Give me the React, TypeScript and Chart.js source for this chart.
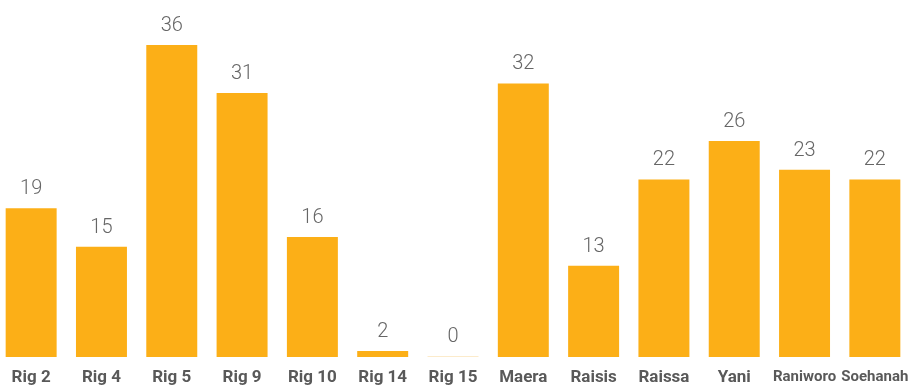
import { useEffect, useRef } from 'react';
import { Chart, registerables } from 'chart.js';

Chart.register(...registerables);

const categories = [
  'Rig 2', 'Rig 4', 'Rig 5', 'Rig 9', 'Rig 10', 'Rig 14', 'Rig 15',
  'Maera', 'Raisis', 'Raissa', 'Yani', 'Raniworo', 'Soehanah',
];
const values = [19, 15, 36, 31, 16, 2, 0, 32, 13, 22, 26, 23, 22];

// value-axis range (the axis starts above zero, as in the reference)
const Y_MIN = 3.5;
const Y_MAX = 40.7;

const BAR_COLOR = '#FCAF17';
const FAINT_BAR = '#FCEBCB';
const VALUE_COLOR = '#666666';
const LABEL_COLOR = '#595959';
const VALUE_FONT = "Roboto, sans-serif";

const valueLabels = {
  id: 'valueLabels',
  afterDatasetsDraw(chart: any) {
    const { ctx, chartArea, scales } = chart;
    const y = scales.y;
    const meta = chart.getDatasetMeta(0);
    const data = chart.data.datasets[0].data as number[];
    ctx.save();
    meta.data.forEach((bar: any, i: number) => {
      const v = data[i];
      const { width } = bar.getProps(['width'], true);
      let top = bar.y;
      if (v < y.min) {
        // values under the axis start are shown as a thin stub on the baseline
        const h = v > 0 ? 6 : 1;
        top = chartArea.bottom - h;
        ctx.fillStyle = v > 0 ? BAR_COLOR : FAINT_BAR;
        ctx.fillRect(bar.x - width / 2, top, width, h);
      }
      ctx.fillStyle = VALUE_COLOR;
      ctx.font = `300 20px ${VALUE_FONT}`;
      ctx.textAlign = 'center';
      ctx.textBaseline = 'alphabetic';
      ctx.fillText(String(v), bar.x, top - 14);
    });
    ctx.restore();
  },
};

export default function App() {
  const canvasRef = useRef<HTMLCanvasElement | null>(null);

  useEffect(() => {
    if (!canvasRef.current) return;
    const chart = new Chart(canvasRef.current, {
      type: 'bar',
      data: {
        labels: categories,
        datasets: [
          {
            data: values,
            backgroundColor: BAR_COLOR,
            borderWidth: 0,
            barPercentage: 1,
            categoryPercentage: 0.725,
            clip: 0,
          } as any,
        ],
      },
      options: {
        animation: false,
        responsive: true,
        maintainAspectRatio: false,
        layout: { padding: 0 },
        plugins: {
          legend: { display: false },
          tooltip: { enabled: false },
        },
        scales: {
          x: {
            grid: { display: false, drawTicks: false, tickLength: 0 },
            border: { display: false },
            afterFit: (scale: any) => {
              scale.height = 30;
              scale.paddingLeft = 0;
              scale.paddingRight = 0;
            },
            ticks: {
              autoSkip: false,
              maxRotation: 0,
              padding: 11,
              color: LABEL_COLOR,
              font: (ctx: any) => ({
                family: 'Roboto, sans-serif',
                weight: 'bold',
                size: ctx.index >= 11 ? 15 : 17,
              }),
            },
          } as any,
          y: {
            display: false,
            min: Y_MIN,
            max: Y_MAX,
          },
        },
      },
      plugins: [valueLabels],
    });
    return () => chart.destroy();
  }, []);

  return (
    <div style={{ position: 'absolute', left: -4, top: 0, width: 914, height: 387 }}>
      <canvas ref={canvasRef} />
    </div>
  );
}
